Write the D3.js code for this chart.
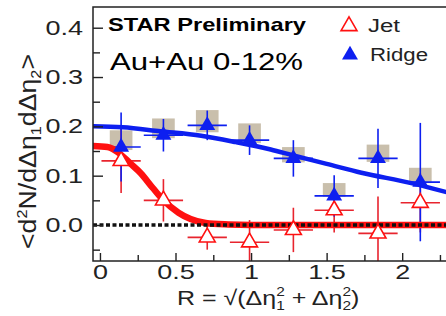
<!DOCTYPE html>
<html>
<head>
<meta charset="utf-8">
<script src="https://cdn.jsdelivr.net/npm/d3@7"></script>
<style>
  body { margin: 0; background: #fff; }
  svg { display: block; font-family: "Liberation Sans", Arial, sans-serif; }
</style>
</head>
<body>
<div id="chart"></div>
<script>
// bin centres in R and half-widths
const rVals = [0.14, 0.42, 0.71, 0.99, 1.28, 1.55, 1.84, 2.12];
const rErr = [0.13, 0.13, 0.13, 0.13, 0.13, 0.13, 0.13, 0.13];
const sysHalfWidth = [0.075, 0.075, 0.075, 0.075, 0.075, 0.075, 0.075, 0.075];

// Ridge (filled blue)
const ridgeVals = [0.158, 0.182, 0.202, 0.172, 0.135, 0.059, 0.135, 0.087];
const ridgeErr = [0.07, 0.033, 0.03, 0.03, 0.037, 0.042, 0.06, 0.12];
const ridgeSysLo = [0.152, 0.176, 0.188, 0.166, 0.127, 0.057, 0.128, 0.085];
const ridgeSysHi = [0.192, 0.216, 0.233, 0.206, 0.158, 0.085, 0.163, 0.116];

// Jet (open red)
const jetVals = [0.13, 0.05, -0.025, -0.035, -0.01, 0.03, -0.017, 0.045];
const jetErr = [0.065, 0.043, 0.025, 0.045, 0.045, 0.045, 0.075, 0.06];

// fit curves
const ridgeFitR = [-0.05, 0.15, 0.4, 0.67, 0.9, 1.13, 1.28, 1.5, 1.73, 2.06, 2.3];
const ridgeFitY = [0.2, 0.198, 0.19, 0.181, 0.168, 0.153, 0.141, 0.124, 0.106, 0.085, 0.066];
const jetFitR = [-0.05, 0.05, 0.13, 0.2, 0.27, 0.35, 0.42, 0.52, 0.6, 0.7, 0.85, 1.0, 2.3];
const jetFitY = [0.16, 0.158, 0.145, 0.125, 0.105, 0.075, 0.05, 0.025, 0.012, 0.004, 0.001, 0, 0];

const xMajor = [0, 0.5, 1, 1.5, 2];
const xMinor = [0.25, 0.75, 1.25, 1.75, 2.25];
const yMajor = [0, 0.1, 0.2, 0.3, 0.4];
const yMinor = [-0.05, 0.05, 0.15, 0.25, 0.35];

const width = 446, height = 316;
const margin = { top: 7, right: 0, bottom: 55, left: 93 };
const blue = "#0d1ff0", red = "#ff1010", redErr = "#e8242e", sysColor = "#c9bfac";
const stretch = 1.35; // the reference text is wider than normal

const svg = d3.select("#chart").append("svg")
  .attr("width", width).attr("height", height);

const x = d3.scaleLinear().domain([-0.046, 2.29]).range([margin.left, width - margin.right]);
const y = d3.scaleLinear().domain([-0.073, 0.442]).range([height - margin.bottom, margin.top]);

svg.append("defs").append("clipPath").attr("id", "plot")
  .append("rect")
  .attr("x", margin.left).attr("y", margin.top)
  .attr("width", width - margin.left - margin.right)
  .attr("height", height - margin.top - margin.bottom);

const plot = svg.append("g").attr("clip-path", "url(#plot)");

// systematic boxes
plot.append("g").selectAll("rect")
  .data(rVals.map((r, i) => ({ r, w: sysHalfWidth[i], lo: ridgeSysLo[i], hi: ridgeSysHi[i] })))
  .join("rect")
  .attr("x", d => x(d.r - d.w))
  .attr("width", d => x(d.r + d.w) - x(d.r - d.w))
  .attr("y", d => y(d.hi))
  .attr("height", d => y(d.lo) - y(d.hi))
  .attr("fill", sysColor);

function errorBars(vals, errs, color) {
  const g = plot.append("g").attr("stroke", color).attr("stroke-width", 1.6);
  const pts = rVals.map((r, i) => ({ r, v: vals[i], e: errs[i], xe: rErr[i] }));
  g.selectAll(".ev").data(pts).join("line")
    .attr("x1", d => x(d.r)).attr("x2", d => x(d.r))
    .attr("y1", d => y(d.v - d.e)).attr("y2", d => y(d.v + d.e));
  g.selectAll(".eh").data(pts).join("line")
    .attr("x1", d => x(d.r - d.xe)).attr("x2", d => x(d.r + d.xe))
    .attr("y1", d => y(d.v)).attr("y2", d => y(d.v));
}
errorBars(jetVals, jetErr, redErr);
errorBars(ridgeVals, ridgeErr, blue);

const line = d3.line().x(d => x(d[0])).y(d => y(d[1])).curve(d3.curveMonotoneX);

plot.append("path")
  .datum(ridgeFitR.map((r, i) => [r, ridgeFitY[i]]))
  .attr("d", line).attr("fill", "none")
  .attr("stroke", blue).attr("stroke-width", 4.5);

plot.append("path")
  .datum(jetFitR.map((r, i) => [r, jetFitY[i]]))
  .attr("d", line).attr("fill", "none")
  .attr("stroke", red).attr("stroke-width", 6.5);

// zero line
plot.append("line")
  .attr("x1", x(-0.046)).attr("x2", x(2.29))
  .attr("y1", y(0)).attr("y2", y(0))
  .attr("stroke", "#111").attr("stroke-width", 3.5)
  .attr("stroke-dasharray", "4,2.5");

const tri = d3.symbol().type(d3.symbolTriangle).size(110);

plot.append("g").selectAll("path")
  .data(rVals.map((r, i) => [r, jetVals[i]]))
  .join("path")
  .attr("d", tri)
  .attr("transform", d => `translate(${x(d[0])},${y(d[1])})`)
  .attr("fill", "#fff").attr("stroke", red).attr("stroke-width", 1.6);

plot.append("g").selectAll("path")
  .data(rVals.map((r, i) => [r, ridgeVals[i]]))
  .join("path")
  .attr("d", tri)
  .attr("transform", d => `translate(${x(d[0])},${y(d[1])})`)
  .attr("fill", blue);

// axes
const x0 = margin.left, yBottom = height - margin.bottom;

function styleAxis(g) {
  g.select(".domain").remove();
  g.selectAll("line").attr("stroke", "#222").attr("stroke-width", 1.4);
  g.selectAll("text").attr("fill", "#222").attr("font-size", 20);
}

svg.append("g").attr("transform", `translate(${x0},0)`)
  .call(d3.axisLeft(y).tickValues(yMajor).tickSize(-10).tickPadding(0).tickSizeOuter(0).tickFormat(d3.format(".1f")))
  .call(styleAxis)
  .call(g => g.selectAll("text")
    .attr("x", -10 / stretch)
    .attr("transform", `scale(${stretch},1)`));

svg.append("g").attr("transform", `translate(${x0},0)`)
  .call(d3.axisLeft(y).tickValues(yMinor).tickSize(-7).tickSizeOuter(0).tickFormat(""))
  .call(styleAxis);

svg.append("g").attr("transform", `translate(0,${yBottom})`)
  .call(d3.axisBottom(x).tickValues(xMajor).tickSize(-8).tickPadding(4).tickSizeOuter(0).tickFormat(d => String(d)))
  .call(styleAxis)
  .call(g => g.selectAll("text").attr("transform", `scale(${stretch},1)`));

svg.append("g").attr("transform", `translate(0,${yBottom})`)
  .call(d3.axisBottom(x).tickValues(xMinor).tickSize(-6).tickSizeOuter(0).tickFormat(""))
  .call(styleAxis);

// frame
const frame = svg.append("g").attr("stroke", "#222").attr("stroke-width", 1.5).attr("fill", "none");
frame.append("path").attr("d", `M${width},${margin.top}H${x0}V${yBottom}H${width}`);

// labels
svg.append("text")
  .attr("x", 108).attr("y", 31)
  .attr("font-size", 19).attr("font-weight", "bold")
  .attr("textLength", 198).attr("lengthAdjust", "spacingAndGlyphs")
  .text("STAR Preliminary");

svg.append("text")
  .attr("x", 110).attr("y", 70)
  .attr("font-size", 23)
  .attr("textLength", 193).attr("lengthAdjust", "spacingAndGlyphs")
  .text("Au+Au 0-12%");

// legend
svg.append("path").attr("d", tri).attr("transform", "translate(349,26)")
  .attr("fill", "#fff").attr("stroke", red).attr("stroke-width", 1.6);
svg.append("path").attr("d", tri).attr("transform", "translate(350,55)")
  .attr("fill", blue);
svg.append("text").attr("x", 368).attr("y", 32).attr("font-size", 18)
  .attr("fill", "#222")
  .attr("textLength", 32).attr("lengthAdjust", "spacingAndGlyphs").text("Jet");
svg.append("text").attr("x", 370).attr("y", 61).attr("font-size", 18)
  .attr("fill", "#222")
  .attr("textLength", 58).attr("lengthAdjust", "spacingAndGlyphs").text("Ridge");

// x title with stacked sub/superscripts
const xt = svg.append("text")
  .attr("transform", `translate(177,305) scale(1.19,1)`)
  .attr("font-size", 21).attr("fill", "#222");
xt.append("tspan").text("R = \u221A(\u0394\u03B7");
xt.append("tspan").attr("font-size", 13).attr("dy", 5).text("1");
xt.append("tspan").attr("font-size", 13).attr("dx", -7.2).attr("dy", -14).text("2");
xt.append("tspan").attr("dy", 9).text(" + \u0394\u03B7");
xt.append("tspan").attr("font-size", 13).attr("dy", 5).text("2");
xt.append("tspan").attr("font-size", 13).attr("dx", -7.2).attr("dy", -14).text("2");
xt.append("tspan").attr("dy", 9).text(")");

// y title
const yt = svg.append("text")
  .attr("transform", "translate(36,249) rotate(-90)")
  .attr("font-size", 23).attr("fill", "#222")
  .attr("textLength", 195).attr("lengthAdjust", "spacingAndGlyphs");
yt.append("tspan").text("<d");
yt.append("tspan").attr("font-size", 14).attr("dy", -9).text("2");
yt.append("tspan").attr("dy", 9).text("N/d\u0394\u03B7");
yt.append("tspan").attr("font-size", 14).attr("dy", 5).text("1");
yt.append("tspan").attr("dy", -5).text("d\u0394\u03B7");
yt.append("tspan").attr("font-size", 14).attr("dy", 5).text("2");
yt.append("tspan").attr("dy", -5).text(">");
</script>
</body>
</html>
